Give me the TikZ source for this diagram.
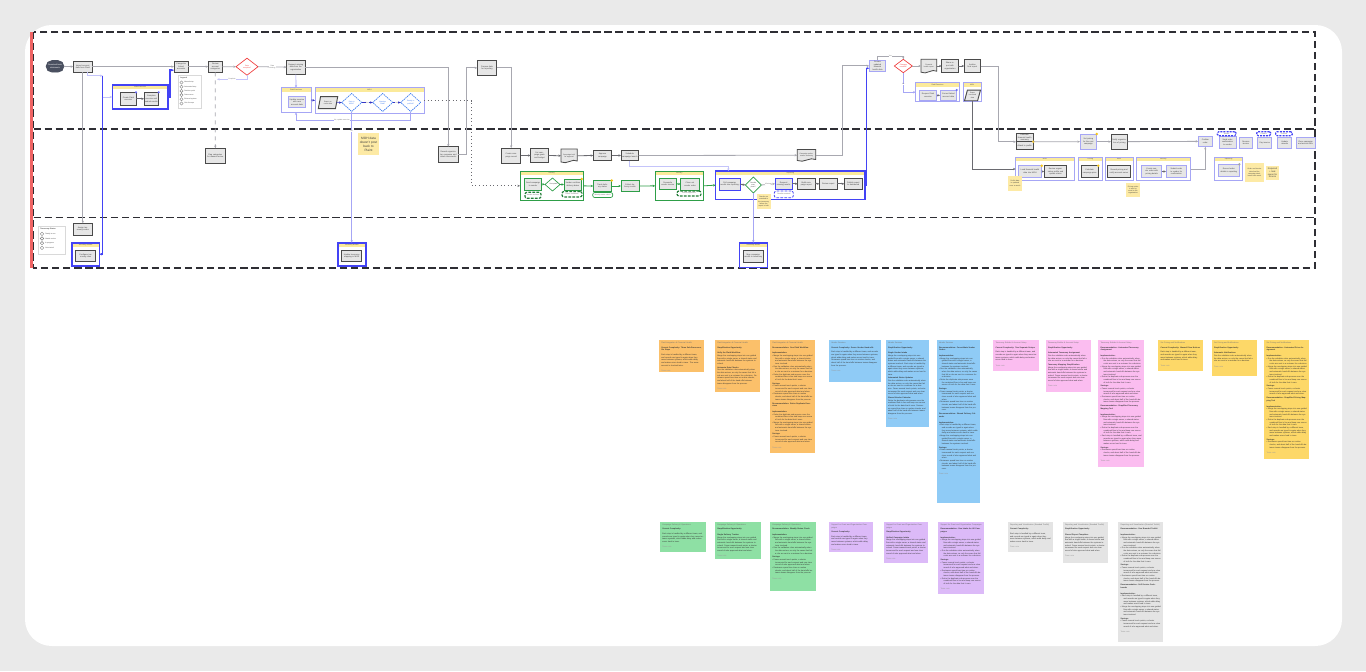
\documentclass[tikz,border=0pt]{standalone}
\usepackage{fontspec}
\setmainfont{Liberation Sans}
\usetikzlibrary{arrows.meta,shapes.geometric,shapes.misc,calc}
\setlength\parindent{0pt}
\definecolor{bg}{HTML}{EAEAEA}
\definecolor{boxfill}{HTML}{E6E6E6}
\definecolor{boxdark}{HTML}{4A4A4A}
\definecolor{lav}{HTML}{A6A6F5}
\definecolor{bblue}{HTML}{4343F5}
\definecolor{lblue}{HTML}{C4C4FA}
\definecolor{lgrey}{HTML}{A8A8B0}
\definecolor{dgrey}{HTML}{6A6A70}
\definecolor{hdr}{HTML}{FBEA9B}
\definecolor{stk}{HTML}{FDEAA5}
\definecolor{gr}{HTML}{2E9E48}
\definecolor{rd}{HTML}{F03C3C}
\definecolor{redband}{HTML}{F06464}
\definecolor{dia}{HTML}{3A7AF0}
\definecolor{term}{HTML}{4A5060}
\definecolor{lanec}{HTML}{2E2E34}
\definecolor{nOr}{HTML}{FBC06A}
\definecolor{nBl}{HTML}{8FCBF6}
\definecolor{nPk}{HTML}{FBBDF0}
\definecolor{nYe}{HTML}{FDD868}
\definecolor{nGr}{HTML}{8EE0A4}
\definecolor{nPu}{HTML}{DCBAF8}
\definecolor{nGy}{HTML}{E4E4E4}
\definecolor{starc}{HTML}{F5C518}
\newcommand\bxf{\fontsize{1.5}{1.9}\selectfont}
\newcommand\lbf{\fontsize{1.3}{1.6}\selectfont}
\newcommand\ntf{\fontsize{1.45}{2.0}\selectfont}
% box: style name x1 y1 x2 y2 text
\newcommand\bx[7]{%
 \pgfmathsetmacro\bxw{(#5-#3)*0.75}\pgfmathsetmacro\bxh{(#6-#4)*0.75}\pgfmathsetmacro\bxt{max((#5-#3)*0.75-1.6,1)}%
 \node[#1, minimum width=\bxw pt, minimum height=\bxh pt, text width=\bxt pt] (#2) at ({(#3+#5)/2},{(#4+#6)/2}) {#7};}
% diamond: style name cx cy w h text
\newcommand\dm[7]{%
 \pgfmathsetmacro\bxw{#5*0.75}\pgfmathsetmacro\bxh{#6*0.75}\pgfmathsetmacro\bxt{#5*0.28}\pgfmathsetmacro\bxa{#5/#6}%
 \node[#1, minimum width=\bxw pt, minimum height=\bxh pt, text width=\bxt pt, aspect=\bxa] (#2) at (#3,#4) {#7};}
% document: name x1 y1 x2 y2 text
\newcommand\docs[6]{%
 \filldraw[docst] (#2,#3) -- (#4,#3) -- (#4,{#5-1.5}) .. controls ({#2+0.7*(#4-#2)},{#5-4.5}) and ({#2+0.35*(#4-#2)},{#5+2.5}) .. (#2,{#5-0.5}) -- cycle;%
 \pgfmathsetmacro\bxw{(#4-#2)*0.75}\pgfmathsetmacro\bxh{(#5-#3)*0.75}\pgfmathsetmacro\bxt{(#4-#2)*0.75-2}%
 \node[doctext, minimum width=\bxw pt, minimum height=\bxh pt, text width=\bxt pt] (#1) at ({(#2+#4)/2},{(#3+#5)/2}) {#6};}
% group: name x1 y1 x2 y2 style title
\newcommand\grp[7]{%
 \pgfmathsetmacro\bxw{(#4-#2)*0.75}\pgfmathsetmacro\bxh{(#5-#3)*0.75}%
 \node[rectangle, #6, fill=white, inner sep=0pt, minimum width=\bxw pt, minimum height=\bxh pt, anchor=north west] (#1) at (#2,#3) {};%
 \node[ghead, minimum width=\bxw pt, anchor=north west] (#1-h) at (#2,#3) {#7};%
 \draw[#6, fill=none] (#1.north west) rectangle (#1.south east);}
% sticky note: name x1 y1 x2 y2 colour content
\newcommand\stick[7]{%
 \pgfmathsetmacro\bxw{(#4-#2)*0.75}\pgfmathsetmacro\bxh{(#5-#3)*0.75}\pgfmathsetmacro\bxt{(#4-#2)*0.75-3.4}%
 \node[notebox, fill=#6, minimum width=\bxw pt, minimum height=\bxh pt, anchor=north west] (#1) at (#2,#3) {};%
 \node[notetext, text width=\bxt pt, anchor=north west] (#1-t) at ($(#1.north west)+(2.3,2.3)$) {#7};}
\newcommand\nhd[1]{{\color{black!55}#1}\par\vspace{1.4pt}}
\newcommand\nttl[1]{{\bfseries #1}\par\vspace{1.4pt}}
\newcommand\nsub[1]{\vspace{0.8pt}{\bfseries #1}\par}
\newcommand\nitem[1]{\hangindent=2.2pt\hangafter=1\textbullet\ #1\par}
\newcommand\nft{\par\vspace{2pt}{\color{black!40}Team note}}
\newcommand\pA{Each step is handled by a different team, and records are typed in again when they move between systems, which adds delay and makes errors hard to trace.}
\newcommand\pB{Merge the overlapping steps into one guided flow with a single owner, a shared status and automatic hand-offs between the systems involved.}
\newcommand\pC{Run the validation rules automatically when the data arrives, so only the cases that fail a rule are sent to a reviewer for a decision.}
\newcommand\pD{Fewer manual touch points, a shorter turnaround for each request and one clear record of who approved what and when.}
\newcommand\pE{Retire the duplicate sub-process once the combined flow is live and keep one source of truth for the data that it uses.}
\newcommand\pF{Reviewers spend less time on routine checks, and about half of the hand-offs between teams disappear from the process.}
\tikzset{
 x=0.75pt, y=-0.75pt,
 every node/.style={outer sep=0pt},
 proc/.style={rectangle, draw=boxdark, fill=boxfill, line width=0.7pt, inner sep=0.4pt, align=center, font=\bxf, text=black!75},
 procl/.style={proc, draw=lav},
 procg/.style={proc, draw=gr},
 procb/.style={proc, draw=bblue},
 term/.style={proc, rounded rectangle, draw=term, fill=term, text=white},
 dmr/.style={diamond, draw=rd, fill=white, line width=0.5pt, inner sep=0pt, align=center, font=\lbf, text=rd},
 dmb/.style={diamond, draw=dia, dash pattern=on 1pt off 0.6pt, fill=white, line width=0.5pt, inner sep=0pt, align=center, font=\lbf, text=dia},
 dmg/.style={diamond, draw=gr, fill=white, line width=0.5pt, inner sep=0pt, align=center, font=\lbf, text=black!75},
 para/.style={trapezium, trapezium left angle=65, trapezium right angle=115, trapezium stretches=true, draw=boxdark, fill=boxfill, line width=0.7pt, inner sep=0.3pt, align=center, font=\lbf, text=black!75},
 docst/.style={draw=boxdark, fill=boxfill, line width=0.6pt},
 doctext/.style={rectangle, draw=none, inner sep=0.3pt, align=center, font=\lbf, text=black!75},
 ghead/.style={rectangle, fill=hdr, draw=none, inner sep=0pt, minimum height=3pt, font=\lbf, text=black!70},
 gthick/.style={draw=bblue, line width=1.2pt},
 gthin/.style={draw=lav, line width=0.7pt},
 gblue/.style={draw=bblue, line width=0.8pt},
 ggreen/.style={draw=gr, line width=0.7pt},
 pillg/.style={rectangle, rounded corners=1.5pt, draw=gr!80!black, dash pattern=on 2pt off 1pt, line width=0.9pt, fill=white, inner sep=0.2pt, align=center, font=\lbf, text=black!60},
 pillb/.style={pillg, draw=bblue, line width=0.6pt},
 pillgs/.style={rectangle, rounded corners=1.5pt, draw=gr, line width=0.5pt, fill=white, inner sep=0.2pt, align=center, font=\lbf, text=black!60},
 hdash/.style={rectangle, rounded corners=1pt, draw=bblue, dash pattern=on 1.5pt off 0.8pt, line width=0.9pt, fill=white, inner sep=0.2pt, align=center, font=\lbf, text=black!60},
 stky/.style={rectangle, fill=stk, draw=none, inner sep=0.4pt, align=center, font=\lbf, text=black!75},
 legbox/.style={rectangle, fill=white, draw=black!15, line width=0.5pt, inner sep=0pt},
 legt/.style={font=\lbf, text=black!70, inner sep=0.2pt, anchor=west},
 notebox/.style={rectangle, draw=none, inner sep=0pt},
 notetext/.style={inner sep=0pt, align=left, font=\ntf, text=black!80},
 lbl/.style={font=\lbf, fill=white, inner sep=0.2pt, text=black!55, align=center},
 tip/.style={-{Stealth[length=2pt,width=1.7pt]}},
 ln/.style={tip, draw=lgrey, line width=0.6pt},
 lnd/.style={tip, draw=dgrey, line width=0.6pt},
 lnl/.style={tip, draw=lav, line width=0.5pt},
 lnlb/.style={tip, draw=lblue, line width=0.6pt},
 lnb/.style={tip, draw=bblue, line width=1.1pt},
 lnbt/.style={tip, draw=bblue!80!black, line width=0.5pt},
 lng/.style={tip, draw=gr, line width=0.6pt},
 ldot/.style={tip, draw=dgrey, line width=0.7pt, dotted},
 lanel/.style={draw=lanec, line width=1.3pt, dash pattern=on 5.5pt off 2.8pt},
}
\begin{document}
\begin{tikzpicture}
\useasboundingbox (0,0) rectangle (1366,671);
\fill[bg] (0,0) rectangle (1366,671);
\fill[white, rounded corners=20pt] (25,25) rectangle (1342,646);
% swimlanes
\fill[redband] (30.3,32) rectangle (33,268);
\draw[lanel] (33.5,32) rectangle (1315,268);
\draw[lanel] (33.5,129) -- (1315,129);
\draw[lanel] (33.5,217.5) -- (1315,217.5);

% ---------- lane 1 ----------
\bx{term}{t1}{45.7}{60.7}{64.3}{72}{Download bank\\statements}
\bx{proc}{b1}{73.3}{61}{92.3}{72.3}{Import account data from Plaid}
\bx{proc}{b2}{174}{61}{188.3}{72.3}{Categorize linked accounts}
\bx{proc}{b3}{208.3}{61}{222.3}{72.3}{Review account categories}
\dm{dmr}{d1}{247}{66.7}{22}{17}{Data complete?}
\bx{proc}{b4}{286.7}{60}{305}{74.3}{Request missing data from the organization}
\bx{proc}{b5}{477.3}{60.7}{496.7}{75}{Prepare data for reporting}
\grp{g1}{112.3}{85}{167.7}{109}{gthick}{Plaid Exercises}
\bx{proc}{b6}{120.7}{92.3}{136}{105.3}{Create Plaid exercise}
\bx{proc}{b7}{144}{92.3}{158.7}{105.3}{Complete exercise and submit results}
\fill[bblue!80] (b6.north east) circle (0.9pt);
\fill[bblue!80] (b7.north east) circle (0.9pt);
% legend 1
\node[legbox, minimum width=17.5pt, minimum height=24.5pt, anchor=north west] (lg1) at (178.3,75.7) {};
\node[legt, font=\fontsize{1.4}{1.6}\selectfont\bfseries] (lg1-t) at (180,78.5) {Legend};
\foreach \i/\t in {0/Manual step,1/Automated step,2/Decision point,3/Data source,4/External system,5/Out of scope}{
  \draw[black!50, line width=0.3pt] (181.5,{82.5+\i*4.2}) circle (1.2pt);
  \node[legt] (lg1-\i) at (184,{82.5+\i*4.2}) {\t};
}
\grp{g2}{281}{87.7}{311}{112.3}{gthin}{Plaid Exercises}
\bx{procl}{b8}{288.3}{96.7}{305.7}{107.3}{Update exercise with new account data}
\grp{g3}{315}{87.7}{424}{113.3}{gthin}{MOH}
\pgfmathsetmacro\pw{19.4*0.75}\pgfmathsetmacro\ph{12*0.75}
\node[para, minimum width=\pw pt, minimum height=\ph pt, text width=9pt] (p1) at (328,102.7) {Export account data};
\dm{dmb}{d2}{351.7}{102.5}{20}{18}{Data in MOH?}
\dm{dmb}{d3}{382.7}{102.5}{20}{18}{Matches Plaid?}
\dm{dmb}{d4}{410.7}{102.5}{20}{18}{Ready to publish?}
\bx{procl}{b9}{869.3}{60}{885.7}{71.7}{Review updated financial health data}
\dm{dmr}{d5}{903.3}{66}{18}{13.4}{Changes needed?}
\docs{doc1}{921}{59.3}{936.7}{72.7}{Financial health report}
\bx{proc}{b10}{941.7}{59.3}{958.3}{72.7}{Share report with organization}
\bx{proc}{b11}{964.3}{59.3}{980.7}{72.7}{Archive final report}
\grp{g4}{915.7}{82.7}{959.3}{101.7}{gthin}{Plaid Exercises}
\bx{procl}{b12}{919.3}{90}{936.7}{100.7}{Reopen Plaid exercise}
\bx{procl}{b13}{940}{90}{956.7}{100.7}{Correct linked account data}
\fill[bblue!80] (b13.north east) circle (0.9pt);
\grp{g5}{963}{82.7}{981.3}{101.7}{gthin}{MOH}
\pgfmathsetmacro\pw{15*0.75}\pgfmathsetmacro\ph{10.7*0.75}
\node[para, minimum width=\pw pt, minimum height=\ph pt, text width=7pt] (p2) at (972.5,95.4) {Export corrected data};

% ---------- lane 2 ----------
\bx{proc}{b14}{205.7}{148.3}{225}{163.3}{Flag categories for manual review}
\node[stky, font=\fontsize{2.4}{3}\selectfont, minimum width=15.75pt, minimum height=16.5pt, text width=15pt] (s1) at (368.5,144) {MOH data\\doesn't post\\back to\\Plaint};
\bx{proc}{b15}{438.3}{146.7}{458.3}{162.7}{Record organization response and attach documents}
\bx{proc}{b16}{501.7}{148}{520.7}{163}{Create campaign record}
\bx{proc}{b17}{530.7}{148.5}{548.3}{162.5}{Set campaign goals and budget}
\docs{doc2}{561}{149}{577.3}{162.5}{Campaign brief for approval}
\bx{proc}{b18}{593.3}{150.5}{611.7}{160.5}{Approve campaign}
\bx{proc}{b19}{621}{150.5}{638.7}{160.5}{Schedule campaign launch}
\docs{doc3}{797.3}{149.5}{815.7}{161}{Campaign performance summary}
\grp{gg1}{520}{171}{583.3}{200.7}{ggreen}{Delivery}
\bx{procg}{b20}{524.3}{178.3}{541.7}{190}{Send campaign to vendor}
\dm{dmg}{dg1}{552.5}{184.5}{15}{13}{Accepted?}
\bx{procg}{b21}{564}{179}{581.7}{190}{Vendor confirms delivery dates}
\bx{pillg}{pd1}{525}{192.3}{541}{198.3}{Vendor declines}
\bx{pillg}{pd2}{562}{191.5}{582}{197}{Dates confirmed}
\fill[starc] (b21.north east) circle (1pt);
\bx{procg}{b22}{593.3}{180.5}{611.7}{191.5}{Track delivery status}
\bx{pillgs}{gr1}{592.7}{192.5}{612.7}{197.5}{Weekly status check}
\fill[starc] (b22.north east) circle (1pt);
\bx{procg}{b23}{621}{180.5}{639}{191.5}{Collect delivery results}
\grp{gg2}{655.3}{171}{703.3}{200.7}{ggreen}{Delivery}
\bx{procg}{b24}{659}{178.3}{676.7}{189.3}{Reconcile vendor invoice}
\bx{procg}{b25}{680.7}{178.3}{699.3}{190}{Close out vendor order}
\bx{pillg}{pd3}{677}{191}{701}{196}{Invoice approved}
\grp{gb1}{715.7}{171}{865}{199.3}{gblue}{Reporting}
\bx{procb}{b26}{719.3}{178.3}{740}{190}{Pull campaign results into reporting}
\dm{dmg}{dg2}{753.3}{185}{16}{16}{Results complete?}
\bx{procb}{b27}{775}{178.3}{792.3}{189.3}{Request missing results}
\bx{proc}{b28}{797.7}{178.3}{815}{189.3}{Build campaign report}
\bx{proc}{b29}{819.3}{178.3}{837.3}{189.3}{Review report}
\bx{proc}{b30}{844.3}{178.3}{862.3}{189.3}{Publish report to dashboard}
\bx{pillb}{pd4}{774.3}{191}{793.3}{197.7}{Results received}
\bx{stky}{s2}{756.7}{194.3}{770.7}{209}{Results are matched to the taxonomy before the report is built}
% right part of lane 2
\bx{proc}{b31}{1016}{134}{1033.3}{141.7}{Generate financial health summary}
\bx{proc}{b31b}{1016}{141.7}{1033.3}{149.3}{Attach to profile}
\fill[starc] (b31b.north east) circle (1pt);
\bx{procl}{b32}{1080}{134}{1096.7}{149.3}{Set pricing for the next campaign}
\fill[starc] (b32.north east) circle (1pt);
\bx{proc}{b33}{1111}{134}{1127.7}{149.3}{Notify organization of pricing}
\bx{procl}{b34}{1198.3}{136}{1212.3}{146.7}{Confirm order}
\bx{procl}{b35}{1219}{136}{1236}{148.3}{Send order confirmation to vendor}
\bx{hdash}{h1}{1217.3}{131.7}{1236}{135.7}{Vendor}
\bx{procl}{b36}{1239}{137.3}{1252.7}{148.3}{Receive invoice}
\bx{procl}{b37}{1257.7}{137.3}{1271.7}{148.3}{Pay invoice}
\bx{hdash}{h2}{1256.7}{131.7}{1270.7}{135.7}{Finance}
\bx{procl}{b38}{1277.7}{137.3}{1291.7}{148.3}{Update records}
\bx{hdash}{h3}{1275.7}{131.7}{1292.3}{135.7}{Finance}
\bx{procl}{b39}{1296}{137.3}{1315}{148.3}{Close campaign and archive files}
\grp{gm1}{1015.7}{157.3}{1074}{180.7}{gthin}{MOH}
\bx{procl}{b40}{1018.3}{165.7}{1041.7}{177.3}{Load financial health data into MOH}
\fill[starc] (b40.north east) circle (1pt);
\bx{proc}{b41}{1044.3}{165.7}{1066.7}{177.3}{Review organization profile and update status}
\grp{gm2}{1078.3}{157.3}{1102.3}{180.7}{gthin}{Pricing}
\bx{proc}{b42}{1081}{165.7}{1098.3}{177.3}{Calculate campaign price}
\fill[starc] (b42.north east) circle (1pt);
\grp{gm3}{1105}{157.3}{1133.3}{180.7}{gthin}{MOH}
\bx{proc}{b43}{1107.3}{165.7}{1130.7}{177.3}{Record pricing and notify account owner}
\grp{gm4}{1136}{157.3}{1190.7}{180.7}{gthin}{Delivery}
\bx{procl}{b44}{1141.7}{165.7}{1161.7}{177.3}{Create vendor order with pricing details}
\bx{procl}{b45}{1166}{165.7}{1186.7}{177.3}{Submit order to vendor for confirmation}
\grp{gm5}{1214.3}{157.3}{1242.7}{180.7}{gthin}{Reporting}
\bx{procl}{b46}{1218.3}{164.3}{1239.3}{176.7}{Record order details in reporting}
\fill[black!35] (b46.north east) circle (1pt);
\bx{stky}{s3}{1245}{163.3}{1264}{181.7}{Order and invoice data feed the campaign dashboard each week}
\bx{stky}{s4}{1265.7}{165.7}{1279.3}{180}{\fontsize{1.7}{2.2}\selectfont Required\\+ task\\owner for\\finance}
\bx{stky}{s5}{1008.3}{176}{1021.7}{190.7}{Profile data is updated once a month}
\bx{stky}{s6}{1126}{182.7}{1140}{197.3}{Pricing notice is sent by email to the organization}

% ---------- lane 3 ----------
\node[legbox, minimum width=20pt, minimum height=21.2pt, anchor=north west] (lg2) at (38.3,226) {};
\node[legt, font=\fontsize{1.4}{1.6}\selectfont\bfseries] (lg2-t) at (40,229) {Taxonomy Status};
\foreach \i/\t in {0/Ready to use,1/Needs review,2/In progress,3/Not started}{
  \draw[black!50, line width=0.3pt] (42,{233.8+\i*4.7}) circle (1.3pt);
  \node[legt] (lg2-\i) at (45,{233.8+\i*4.7}) {\t};
}
\bx{proc}{b47}{73.3}{223.3}{92.3}{235}{Assign taxonomy codes}
\grp{gt1}{71.7}{242.7}{99.3}{265.7}{gthick}{Taxonomy Builder}
\bx{proc}{b48}{75.7}{250}{95.7}{261.7}{Configure taxonomy rules}
\grp{gt2}{337.7}{242.7}{365.7}{265.7}{gthick}{Taxonomy Builder}
\bx{proc}{b49}{341.7}{250}{361.7}{261.7}{Update taxonomy mapping in MOH}
\grp{gt3}{739.3}{242.7}{767.3}{267.3}{gthick}{Taxonomy Builder}
\bx{proc}{b50}{743.3}{250}{763.3}{262}{Map campaign results to taxonomy}

% ---------- connectors ----------
\coordinate (jn1) at (102.7,75.7);
\coordinate (jn2) at (102.7,97);
\coordinate (jn3) at (217,79.3);
\draw[ln] (t1.east) -- (b1.west);
\draw[ln] (b1.east) -- (b2.west);
\draw[ln] (b2.east) -- (b3.west);
\draw[ln] (b3.east) -- (d1.west);
\draw[ln] (d1.east) -- node[lbl] (l1) {Data\\missing} (b4.west);
\draw[ln] (b4.east) -| (b15.north);
\draw[ln] (b15.east) -- ++(8.3,0) |- (b5.west);
\draw[ln] (b5.east) -| (b16.north);
\draw[lnd] (b16.east) -- (b17.west);
\draw[lnd] (b17.east) -- (doc2.west);
\draw[lnd] (doc2.east) -- (b18.west);
\draw[lnd] (b18.east) -- (b19.west);
\draw[ln] (b19.east) -- (doc3.west);
\draw[ln] (doc3.east) -- ++(27,0) |- (b9.west);
\draw[lnb] (gb1.east) -| ($(b9.west)+(-2.6,2.4)$) -- ($(b9.west)+(0,2.4)$);
\draw[ln] (b9.north) -- ++(0,-4) -| node[lbl, pos=0.25] (l2) {Yes} (d5.north);
\draw[ln] (d5.east) -- (doc1.west);
\draw[lnd] (doc1.east) -- (b10.west);
\draw[lnd] (b10.east) -- (b11.west);
\draw[ln] (b11.east) -- ++(17.5,0) |- (b31.south west);
\draw[lnl] (d5.south) |- node[lbl, pos=0.3] (l3) {No} (g4.west);
\draw[lnd] (b12.east) -- (b13.west);
\draw[lnd] (p2.south) |- (gm1.west);
\draw[ln] (b31.south east) -- (b32.west);
\draw[ln] (b32.east) -- (b33.west);
\draw[ln] (b33.east) -- (b34.west);
\draw[lnd] (b40.east) -- (b41.west);
\draw[lnd] (b44.east) -- (b45.west);
\draw[ln] (gm4.east) -| (b34.south);
% left side
\draw[ln] (b1.south) -- (b47.north);
\draw[lnlb] ($(b1.south)+(5,0)$) |- (jn1);
\draw[lnb] (jn1) |- (gt1.east);
\draw[lnlb] (jn2) -- (g1.west);
\draw[lnb] (g1.east) -- ++(2.3,0) |- ($(b2.west)+(0,3.5)$);
\draw[lnd] (b6.east) -- (b7.west);
\draw[ln, dashed] (b3.south) -- (b14.north);
\draw[lnlb] (d1.south) |- node[lbl, pos=0.75] (l4) {Complete} (jn3);
\draw[lnl] (b4.south) -- (g2.north);
\draw[lnbt] (g2.east) -- (g3.west);
\draw[lnbt] (p1.east) -- (d2.west);
\draw[lnbt] (d2.east) -- node[lbl] (l5) {Yes} (d3.west);
\draw[lnbt] (d3.east) -- node[lbl] (l6) {Yes} (d4.west);
\draw[lnl] (d4.south) -- ++(0,9) -| node[lbl, pos=0.3] (l7) {No, update exercise} (g2.south);
\draw[lnl] (d2.south) -- node[lbl, pos=0.15] (l8) {No} (gt2.north);
\draw[ldot] (g3.east) -- ++(47.7,0) |- (gg1.west);
\draw[lng] (b20.east) -- (dg1.west);
\draw[lng] (dg1.east) -- (b21.west);
\draw[lng] (gg1.east) -- (b22.west);
\draw[lng] (b22.east) -- (b23.west);
\draw[lng] (b23.east) -- (gg2.west);
\draw[lng] (b24.east) -- (b25.west);
\draw[lng] (gg2.east) -- (gb1.west);
\draw[lnd] (b26.east) -- (dg2.west);
\draw[ln, dashed] (dg2.east) -- node[lbl] (l9) {Missing} (b27.west);
\draw[lnd] (b27.east) -- (b28.west);
\draw[lnd] (b28.east) -- (b29.west);
\draw[lnd] (b29.east) -- (b30.west);
\draw[lnl] (dg2.south) -- (gt3.north);
\draw[lnlb] (b19.south) -- ++(0,5.5) -| ($(gb1.north west)+(12.6,0)$);

% ---------- sticky notes ----------
\stick{o1}{659}{340}{704}{372.3}{nOr}{\nhd{Plaid Integration \& Financial Health}\nttl{Current Complexity: Three Sub-Processes, Six Steps}\pA{} The same account is checked twice.\nft}
\stick{o2}{715}{340}{760}{391.7}{nOr}{\nhd{Plaid Integration \& Financial Health}\nttl{Simplification Opportunity}\nsub{Unify the Plaid Workflow}\pB\par\nsub{Automate Data Checks}\pC{} \pF\nft}
\stick{o3}{770}{340}{815}{453.3}{nOr}{\nhd{Plaid Integration \& Financial Health}\nttl{Recommendation: One Plaid Workflow}\nsub{Implementation:}\nitem{\pB}\nitem{\pC}\nitem{\pE}\nsub{Savings:}\nitem{\pD}\nitem{\pF}\vspace{1pt}\nttl{Recommendation: Retire Duplicate Exercises}\nsub{Implementation:}\nitem{\pE}\nitem{\pB}\nsub{Savings:}\nitem{\pD}\nft}
\stick{u1}{829}{340}{880.7}{381.7}{nBl}{\nhd{Vendor Services}\nttl{Current Complexity: Seven Vendor Hand-offs}\pA{} \pF\nft}
\stick{u2}{885.7}{340}{929}{427.3}{nBl}{\nhd{Vendor Services}\nttl{Simplification Opportunity}\nsub{Single Vendor Intake}\pB{} \pA\par\nsub{Automated Status Updates}\pC{} \pD\par\nsub{Shared Vendor Calendar}\pE{} \pF\nft}
\stick{u3}{936.7}{340}{980}{503.3}{nBl}{\nhd{Vendor Services}\nttl{Recommendation: Consolidate Vendor Orders}\nsub{Implementation:}\nitem{\pB}\nitem{\pC}\nitem{\pE}\nsub{Savings:}\nitem{\pD}\nitem{\pF}\vspace{1pt}\nttl{Recommendation: Shared Delivery Calendar}\nsub{Implementation:}\nitem{\pA}\nitem{\pB}\nsub{Savings:}\nitem{\pD}\nitem{\pF}\nft}
\stick{k1}{993.3}{340}{1039}{371}{nPk}{\nhd{Taxonomy Builder \& Account Setup}\nttl{Current Complexity: Two Separate Setups}\pA\nft}
\stick{k2}{1045.7}{340}{1090.7}{391.7}{nPk}{\nhd{Taxonomy Builder \& Account Setup}\nttl{Simplification Opportunity}\nsub{Automated Taxonomy Assignment}\pC\par\nsub{Taxonomy Mapping Simplification}\pB{} \pD\nft}
\stick{k3}{1098.3}{340}{1144}{467.3}{nPk}{\nhd{Taxonomy Builder \& Account Setup}\nttl{Recommendation: Automated Taxonomy Assignment}\nsub{Implementation:}\nitem{\pC}\nitem{\pB}\nitem{\pE}\nsub{Savings:}\nitem{\pD}\nitem{\pF}\vspace{1pt}\nttl{Recommendation: Simplified Taxonomy Mapping Tool}\nsub{Implementation:}\nitem{\pB}\nitem{\pE}\nitem{\pA}\nsub{Savings:}\nitem{\pF}\nft}
\stick{y1}{1158.3}{340}{1202.7}{371}{nYe}{\nhd{Set Pricing and Notifications}\nttl{Current Complexity: Manual Price Notices}\pA\nft}
\stick{y2}{1211.7}{340}{1256.7}{376}{nYe}{\nhd{Set Pricing and Notifications}\nttl{Simplification Opportunity}\nsub{Automatic Notifications}\pC\nft}
\stick{y3}{1264.3}{340}{1309.3}{459}{nYe}{\nhd{Set Pricing and Notifications}\nttl{Recommendation: Automated Price Assignment}\nsub{Implementation:}\nitem{\pC}\nitem{\pB}\nitem{\pE}\nsub{Savings:}\nitem{\pD}\vspace{1pt}\nttl{Recommendation: Simplified Pricing Mapping Tool}\nsub{Implementation:}\nitem{\pB}\nitem{\pE}\nitem{\pA}\nsub{Savings:}\nitem{\pF}\nft}
\stick{e1}{660}{521.7}{705.7}{551.7}{nGr}{\nhd{Campaign Delivery \& Operations}\nttl{Current Complexity:}\pA\nft}
\stick{e2}{715}{521.7}{760.7}{559.3}{nGr}{\nhd{Campaign Delivery \& Operations}\nttl{Simplification Opportunity}\nsub{Single Delivery Tracker}\pB{} \pD\nft}
\stick{e3}{770}{521.7}{815.7}{591}{nGr}{\nhd{Campaign Delivery \& Operations}\nttl{Recommendation: Weekly Status Check}\nsub{Implementation:}\nitem{\pB}\nitem{\pC}\nsub{Savings:}\nitem{\pD}\nitem{\pF}\nft}
\stick{v1}{829}{521.7}{873.3}{551.7}{nPu}{\nhd{Support for Grant and Organization Campaigns}\nttl{Current Complexity:}\pA\nft}
\stick{v2}{884}{521.7}{928.3}{562.7}{nPu}{\nhd{Support for Grant and Organization Campaigns}\nttl{Simplification Opportunity}\nsub{Unified Campaign Intake}\pB{} \pD\nft}
\stick{v3}{938.3}{521.7}{984}{594}{nPu}{\nhd{Support for Grant and Organization Campaigns}\nttl{Recommendation: One Intake for All Campaigns}\nsub{Implementation:}\nitem{\pB}\nitem{\pC}\nsub{Savings:}\nitem{\pD}\nitem{\pF}\nitem{\pE}\nft}
\stick{r1}{1007.7}{521.7}{1053.3}{551.7}{nGy}{\nhd{Reporting and Visualization (Branded Toolkit)}\nttl{Current Complexity:}\pA\nft}
\stick{r2}{1062.7}{521.7}{1108.3}{562.7}{nGy}{\nhd{Reporting and Visualization (Branded Toolkit)}\nttl{Simplification Opportunity}\nsub{Shared Report Templates}\pB{} \pD\nft}
\stick{r3}{1118.3}{521.7}{1163.3}{641.7}{nGy}{\nhd{Reporting and Visualization (Branded Toolkit)}\nttl{Recommendation: One Branded Toolkit}\nsub{Implementation:}\nitem{\pB}\nitem{\pC}\nitem{\pE}\nsub{Savings:}\nitem{\pD}\nitem{\pF}\vspace{1pt}\nttl{Recommendation: Self-Service Dashboards}\nsub{Implementation:}\nitem{\pA}\nitem{\pB}\nsub{Savings:}\nitem{\pD}\nft}
\end{tikzpicture}
\end{document}
